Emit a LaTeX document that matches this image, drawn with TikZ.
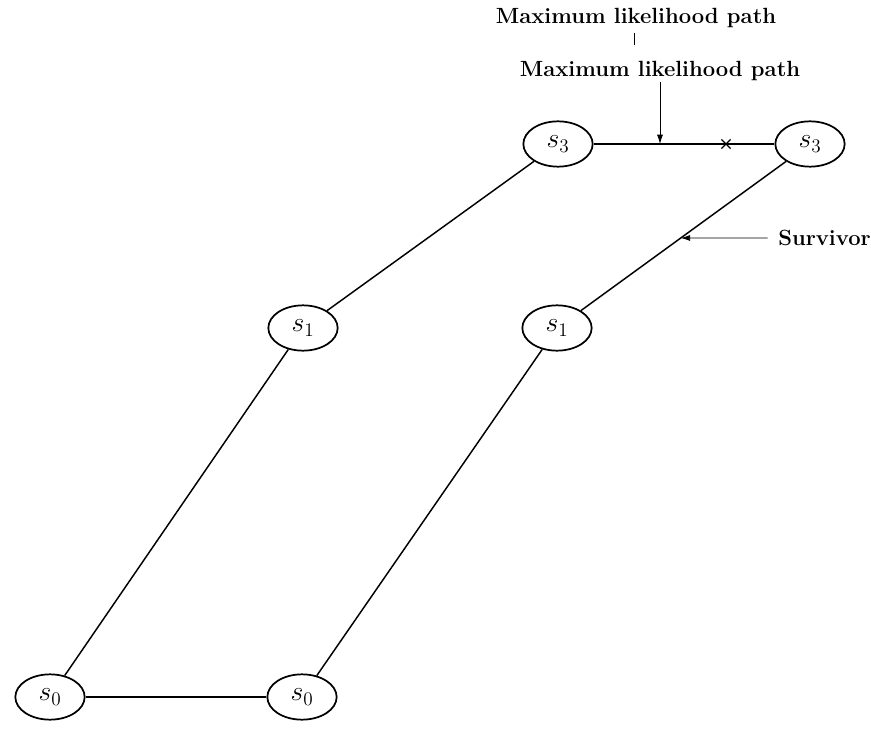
\documentclass[tikz,border=0pt]{standalone}
\usepackage{amsmath}
\usepackage{amssymb}
\usetikzlibrary{shapes.geometric,shapes.misc,arrows.meta}

\begin{document}
\begin{tikzpicture}[x=0.75pt,y=0.75pt,yscale=-1,xscale=1,
  state/.style={draw,ellipse,line width=1.3pt,minimum width=52pt,minimum height=34pt,inner sep=0pt,font=\huge},
  lbl/.style={inner sep=0.75pt,font=\fontsize{16.5}{18}\selectfont\bfseries},
  pointer/.style={-{Latex[length=7pt,width=4.5pt]},line width=0.6pt}]
\path[use as bounding box] (0,0) rectangle (871,731);

% State Nodes
\node[state] (s0a) at (50,697) {$s_0$};
\node[state] (s0b) at (302,697) {$s_0$};
\node[state] (s1a) at (303,328) {$s_1$};
\node[state] (s1b) at (557,328) {$s_1$};
\node[state] (s3a) at (558,144) {$s_3$};
\node[state] (s3b) at (810,144) {$s_3$};

%Straight Lines
\draw[line width=1.1pt] (s0a) -- (s0b);
\draw[line width=1.1pt] (s0a) -- (s1a);
\draw[line width=1.1pt] (s1a) -- (s3a);
\draw[line width=1.1pt] (s0b) -- (s1b);
\draw[line width=1.1pt] (s1b) -- (s3b);
\draw[line width=1.1pt] (s3a) -- (s3b);

% Text Node
\node[lbl] (mlA) at (636,18) {Maximum likelihood path};
% Text Node
\node[lbl] (mlB) at (660,71) {Maximum likelihood path};
% Text Node
\node[lbl,anchor=west] (survlbl) at (777,238) {Survivor};

% points on the lines
\coordinate (mlx) at (660,0);
\coordinate (mlp) at (mlx |- s3a);
\coordinate (cx) at (726,0);
\coordinate (crs) at (cx |- s3a);
\coordinate (survpt) at (intersection of s1b.center--s3b.center and 0,238--871,238);
\coordinate (tickA) at (634,33);
\coordinate (tickB) at (634,45);

% tick and pointers
\draw[line width=0.6pt] (tickA) -- (tickB);
\draw[pointer] (mlB.south) -- (mlp);
\draw[pointer] ([xshift=-7pt]survlbl.west) -- (survpt);
\node[cross out,draw,line width=0.9pt,minimum size=6pt,inner sep=0pt] (xmark) at (crs) {};

\end{tikzpicture}
\end{document}
